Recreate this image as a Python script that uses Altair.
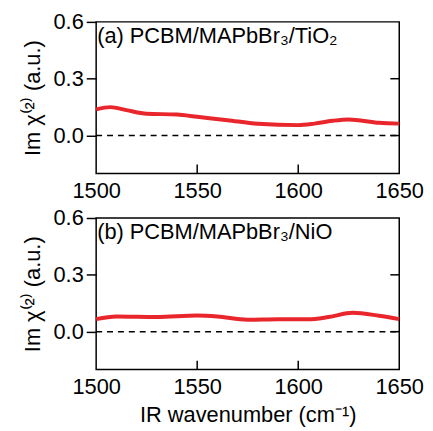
import altair as alt
import pandas as pd

# top panel (a) PCBM/MAPbBr3/TiO2
wn_a = [1500, 1507, 1515, 1525, 1540, 1550, 1565, 1580, 1600, 1608, 1617, 1625, 1640, 1650]
im_a = [0.138, 0.150, 0.134, 0.115, 0.111, 0.099, 0.081, 0.062, 0.055, 0.063, 0.078, 0.085, 0.067, 0.063]
# bottom panel (b) PCBM/MAPbBr3/NiO
wn_b = [1500, 1510, 1530, 1550, 1560, 1575, 1590, 1605, 1615, 1627, 1640, 1650]
im_b = [0.066, 0.080, 0.077, 0.085, 0.080, 0.063, 0.066, 0.065, 0.077, 0.100, 0.084, 0.066]

labels = ["(a) PCBM/MAPbBr₃/TiO₂", "(b) PCBM/MAPbBr₃/NiO"]
x_ticks = [1500, 1550, 1600, 1650]
y_ticks = [0.0, 0.3, 0.6]
x_domain = [1500, 1650]
y_domain = [-0.2, 0.6]

FONT = "Liberation Sans"
FS = 22
W, H = 306, 153


def panel(wn, im, label, show_xtitle):
    df = pd.DataFrame({"wn": wn, "im": im})
    xs = alt.Scale(domain=x_domain, nice=False, zero=False)
    ys = alt.Scale(domain=y_domain, nice=False, zero=False)
    xaxis = alt.Axis(values=x_ticks, ticks=False, labelPadding=7, domain=False,
                     grid=False, labelFontSize=FS, labelFont=FONT, labelColor="black",
                     labelFlush=False, labelOverlap=False,
                     titleFontSize=FS, titleFont=FONT, titleFontWeight="normal",
                     titleColor="black", titlePadding=7, format="d")
    yaxis = alt.Axis(values=y_ticks, tickSize=10, tickColor="black", tickWidth=1.5,
                     labelPadding=3, domain=False, grid=False, labelFontSize=FS,
                     labelFlush=False, labelOverlap=False,
                     labelFont=FONT, labelColor="black", format=".1f",
                     titleFontSize=FS, titleFont=FONT, titleFontWeight="normal",
                     titleColor="black", titlePadding=9)
    xtitle = "IR wavenumber (cm⁻¹)" if show_xtitle else None
    xenc = alt.X("wn:Q", scale=xs, axis=xaxis, title=xtitle) if xtitle else alt.X("wn:Q", scale=xs, axis=xaxis, title=None)
    line = alt.Chart(df).mark_line(color="#e8262c", strokeWidth=4, interpolate="monotone").encode(
        x=xenc,
        y=alt.Y("im:Q", scale=ys, axis=yaxis, title="Im χ⁽²⁾ (a.u.)"),
    )
    zero = alt.Chart(pd.DataFrame({"y": [0.0]})).mark_rule(
        color="black", strokeDash=[6, 5], strokeWidth=1.5).encode(
        y=alt.Y("y:Q", scale=ys), x=alt.value(0), x2=alt.value(W))
    rticks = alt.Chart(pd.DataFrame({"y": [0.0, 0.3]})).mark_rule(
        color="black", strokeWidth=1.5).encode(
        y=alt.Y("y:Q", scale=ys), x=alt.value(W - 9), x2=alt.value(W))
    bticks = alt.Chart(pd.DataFrame({"x": [1550, 1600]})).mark_rule(
        color="black", strokeWidth=1.5).encode(
        x=alt.X("x:Q", scale=xs), y=alt.value(H - 9), y2=alt.value(H))
    txt = alt.Chart(pd.DataFrame({"t": [label]})).mark_text(
        align="left", baseline="middle", font=FONT, fontSize=FS, color="black").encode(
        x=alt.value(1), y=alt.value(14), text="t:N")
    return alt.layer(zero, line, rticks, bticks, txt).properties(width=W, height=H)


chart = alt.vconcat(
    panel(wn_a, im_a, labels[0], False),
    panel(wn_b, im_b, labels[1], True),
    spacing=4,
).configure_view(stroke="black", strokeWidth=1.5).properties(
    background="white", padding={"left": 12, "top": 0, "right": 0, "bottom": 0})

chart.save("out.html", embed_options={"renderer": "svg", "actions": False})
